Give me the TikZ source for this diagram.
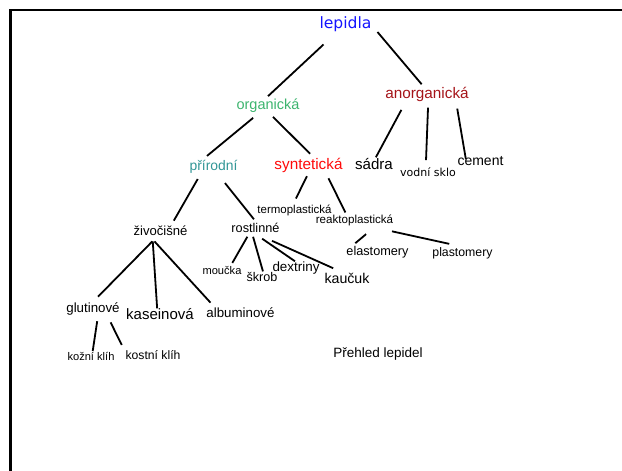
\documentclass[tikz,border=0pt]{standalone}
\usepackage{fontspec}
\setmainfont{Liberation Sans}
\newfontfamily\dejavu{DejaVu Sans}
\usepackage{tikz}
\usetikzlibrary{positioning}

\definecolor{lepblue}{RGB}{20,20,255}
\definecolor{orggreen}{RGB}{60,180,110}
\definecolor{prirteal}{RGB}{50,150,150}
\definecolor{syntred}{RGB}{255,10,10}
\definecolor{anorgred}{RGB}{165,20,25}

\tikzset{
        lbl/.style={inner sep=0pt, outer sep=0pt, font=\fontsize{#1}{#1}\selectfont},
        dlbl/.style={inner sep=0pt, outer sep=0pt, font=\dejavu\fontsize{#1}{#1}\selectfont},
        edge/.style={line width=1.8pt},
        frame/.style={line width=2.4pt}
}

\begin{document}
\begin{tikzpicture}[x=1pt, y=-1pt, on grid]
        \useasboundingbox (0,0) rectangle (622,471);
        \draw[frame] (10.5,471) |- (622,10);
        \node (lep) [dlbl=15.6, text=lepblue] at (345.5,24) {lepidla};
        \node (org) [below left=82pt and 77.5pt of lep, lbl=14.5, text=orggreen] {organická};
        \node (anorg) [below right=70pt and 81.5pt of lep, lbl=15.3, text=anorgred] {anorganická};
        \node (prir) [below left=60.5pt and 54.5pt of org, lbl=13.9, text=prirteal] {přírodní};
        \node (synt) [below right=59pt and 40.5pt of org, lbl=15.3, text=syntred] {syntetická};
        \node (sadra) [below left=70pt and 53pt of anorg, lbl=15.1] {sádra};
        \node (vodni) [below right=78.5pt and 1pt of anorg, dlbl=11] {vodní sklo};
        \node (cement) [below right=67.5pt and 53.5pt of anorg, lbl=14] {cement};
        \node (termo) [below left=45pt and 14pt of synt, lbl=11.5] {termoplastická};
        \node (reakto) [below right=55pt and 46pt of synt, lbl=11.6] {reaktoplastická};
        \node (ziv) [below left=64pt and 53pt of prir, lbl=13.1] {živočišné};
        \node (rostl) [below right=61.5pt and 42pt of prir, lbl=12.7] {rostlinné};
        \node (moucka) [below left=43pt and 33.5pt of rostl, lbl=11.1] {moučka};
        \node (skrob) [below right=49pt and 6.5pt of rostl, lbl=12.6] {škrob};
        \node (dextr) [below right=40.5pt and 40.5pt of rostl, lbl=13.4] {dextriny};
        \node (kaucuk) [below right=50.5pt and 91.5pt of rostl, lbl=14.2] {kaučuk};
        \node (elast) [below right=32pt and 23pt of reakto, lbl=12.7] {elastomery};
        \node (plast) [below right=33.5pt and 108pt of reakto, lbl=12.3] {plastomery};
        \node (glut) [below left=78.5pt and 67.5pt of ziv, lbl=13.3] {glutinové};
        \node (kasein) [below left=83.5pt and 0.5pt of ziv, lbl=15] {kaseinová};
        \node (album) [below right=82pt and 80pt of ziv, lbl=13.3] {albuminové};
        \node (kozni) [below left=47pt and 2pt of glut, lbl=11.1] {kožní klíh};
        \node (kostni) [below right=46.5pt and 60pt of glut, lbl=12.2] {kostní klíh};
        \node (prehled) [lbl=13.5] at (378,353.5) {Přehled lepidel};
        \draw[edge, shorten <=19pt, shorten >=4.4pt] (lep.-137) -- (org.115);
        \draw[edge, shorten <=9.3pt, shorten >=3.3pt] (lep.-2) -- (anorg.114);
        \draw[edge, shorten <=7.9pt, shorten >=6.3pt] (org.-142) -- (prir.150);
        \draw[edge, shorten <=5.7pt, shorten >=5.7pt] (org.-82) -- (synt.52);
        \draw[edge, shorten <=9.8pt, shorten >=1.2pt] (anorg.-161) -- (sadra.77);
        \draw[edge, shorten <=6.5pt, shorten >=8pt] (anorg.-80) -- (vodni.117);
        \draw[edge, shorten <=7.5pt, shorten >=-2pt] (anorg.-14.5) -- (cement.163);
        \draw[edge, shorten <=6.9pt, shorten >=5.7pt] (prir.-152) -- (ziv.25);
        \draw[edge, shorten <=12.8pt, shorten >=5.1pt] (prir.-62) -- (rostl.71);
        \draw[edge, shorten <=4.4pt, shorten >=6.7pt] (synt.-87) -- (termo.106);
        \draw[edge, shorten <=6.8pt, shorten >=2.3pt] (synt.-23) -- (reakto.146);
        \draw[edge, shorten <=4.6pt, shorten >=4.6pt] (rostl.-141) -- (moucka.27);
        \draw[edge, shorten <=4.2pt, shorten >=1pt] (rostl.-127) -- (skrob.75);
        \draw[edge, shorten <=10.5pt, shorten >=1.8pt] (rostl.-113) -- (dextr.86);
        \draw[edge, shorten <=19.8pt, shorten >=12.3pt] (rostl.-108) -- (kaucuk.116);
        \draw[edge, shorten <=13.5pt, shorten >=4.5pt] (reakto.-14) -- (elast.167);
        \draw[edge, shorten <=27.4pt, shorten >=18.3pt] (reakto.-27) -- (plast.51);
        \draw[edge, shorten <=8.4pt, shorten >=8.4pt] (ziv.-115) -- (glut.98);
        \draw[edge, shorten <=6pt] (ziv.-149) -- (kasein.117);
        \draw[edge, shorten <=8.1pt, shorten >=6.7pt] (ziv.-157) -- (album.169);
        \draw[edge, shorten <=6pt, shorten >=1pt] (glut.-51) -- (kozni.69);
        \draw[edge, shorten <=7.9pt, shorten >=8.6pt] (glut.-24) -- (kostni.174);
\end{tikzpicture}
\end{document}
